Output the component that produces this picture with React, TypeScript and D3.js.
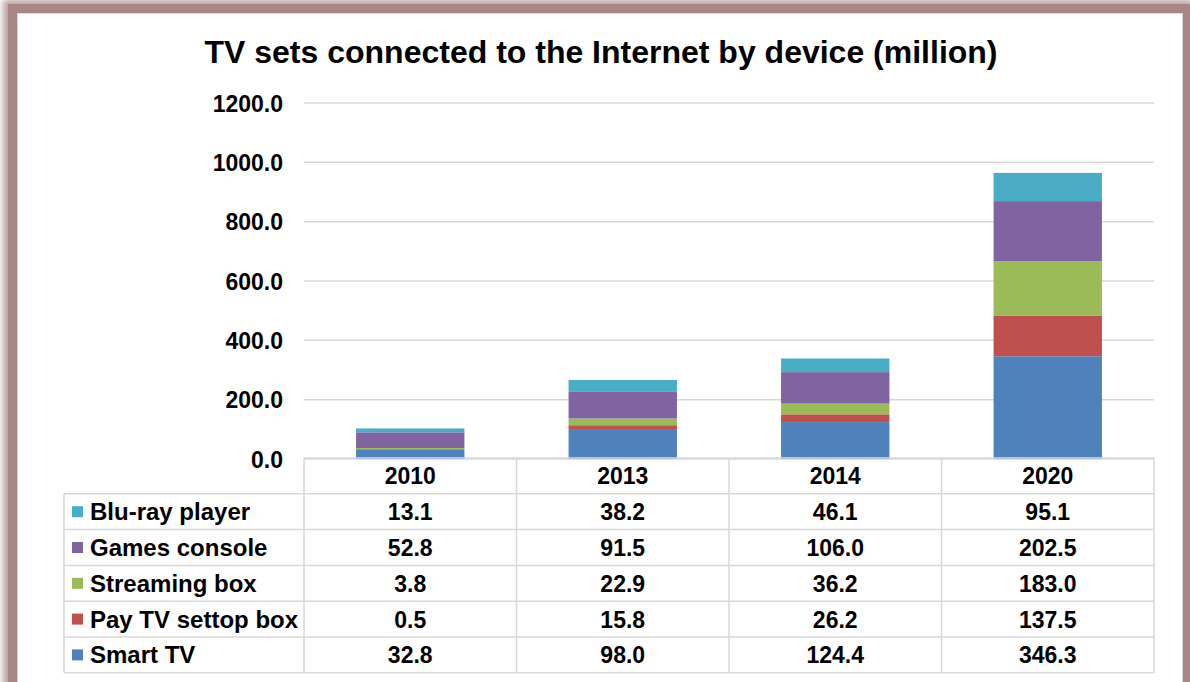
import * as d3 from "d3";
import { useRef, useEffect } from "react";

const years = ["2010", "2013", "2014", "2020"];
const seriesNames = ["Smart TV", "Pay TV settop box", "Streaming box", "Games console", "Blu-ray player"];
const seriesColors = ["#4f81bd", "#c0504d", "#9bbb59", "#8064a2", "#4bacc6"];
const smartTV = [32.8, 98.0, 124.4, 346.3];
const payTV = [0.5, 15.8, 26.2, 137.5];
const streamingBox = [3.8, 22.9, 36.2, 183.0];
const gamesConsole = [52.8, 91.5, 106.0, 202.5];
const bluRay = [13.1, 38.2, 46.1, 95.1];
const yTicks = [0, 200, 400, 600, 800, 1000, 1200];

const W = 1190;
const H = 682;

function App() {
  const ref = useRef<SVGSVGElement>(null);

  useEffect(() => {
    draw();
  }, []);

  const draw = () => {
    const svg = d3.select(ref.current);
    svg.selectAll("*").remove();
    const font = "'Liberation Sans', Arial, sans-serif";

    const values = [smartTV, payTV, streamingBox, gamesConsole, bluRay];
    const rows = years.map((y, i) => {
      const r: any = { year: y };
      seriesNames.forEach((s, k) => (r[s] = values[k][i]));
      return r;
    });

    // frame with soft shadow
    const defs = svg.append("defs");
    defs
      .append("filter")
      .attr("id", "blur")
      .attr("x", "-5%")
      .attr("y", "-5%")
      .attr("width", "110%")
      .attr("height", "110%")
      .append("feGaussianBlur")
      .attr("stdDeviation", 3);

    svg
      .append("rect")
      .attr("x", 9)
      .attr("y", 6)
      .attr("width", 1178)
      .attr("height", 720)
      .attr("fill", "none")
      .attr("stroke", "#8a6262")
      .attr("stroke-width", 12)
      .attr("opacity", 0.6)
      .attr("filter", "url(#blur)");
    svg
      .append("rect")
      .attr("x", 12.5)
      .attr("y", 8.5)
      .attr("width", 1174)
      .attr("height", 720)
      .attr("fill", "white")
      .attr("stroke", "#a98585")
      .attr("stroke-width", 9);
    svg
      .append("rect")
      .attr("x", 17.5)
      .attr("y", 13.5)
      .attr("width", 1165)
      .attr("height", 720)
      .attr("fill", "none")
      .attr("stroke", "#dcdcdc")
      .attr("stroke-width", 1);

    // title
    svg
      .append("text")
      .attr("x", 601)
      .attr("y", 63)
      .attr("text-anchor", "middle")
      .attr("font-family", font)
      .attr("font-weight", "bold")
      .attr("font-size", 32)
      .text("TV sets connected to the Internet by device (million)");

    const x = d3.scaleBand().domain(years).range([304, 1154]).padding(0);
    const y = d3.scaleLinear().domain([0, 1200]).range([459, 103]);
    const barW = x.bandwidth() * 0.51;

    // gridlines + y labels
    const g = svg.append("g");
    g.selectAll("line.grid")
      .data(yTicks)
      .join("line")
      .attr("x1", 304)
      .attr("x2", 1154)
      .attr("y1", (d) => y(d))
      .attr("y2", (d) => y(d))
      .attr("stroke", "#d9d9d9")
      .attr("stroke-width", 1.5);
    g.selectAll("text.tick")
      .data(yTicks)
      .join("text")
      .attr("x", 283)
      .attr("y", (d) => y(d) + 8.5)
      .attr("text-anchor", "end")
      .attr("font-family", font)
      .attr("font-weight", "bold")
      .attr("font-size", 23)
      .text((d) => d3.format(".1f")(d));

    // stacked bars
    const stacked = d3.stack().keys(seriesNames)(rows);
    svg
      .append("g")
      .selectAll("g")
      .data(stacked)
      .join("g")
      .attr("fill", (d, i) => seriesColors[i])
      .selectAll("rect")
      .data((d) => d)
      .join("rect")
      .attr("x", (d: any) => x(d.data.year)! + (x.bandwidth() - barW) / 2)
      .attr("width", barW)
      .attr("y", (d) => y(d[1]))
      .attr("height", (d) => y(d[0]) - y(d[1]));

    // data table
    const tableTop = 458;
    const rowH = 35.8;
    const tableLeft = 64;
    const tableRight = 1154;
    const tableBottom = tableTop + rowH * 6;
    const tbl = svg.append("g").attr("font-family", font).attr("font-weight", "bold").attr("font-size", 23);
    const lineColor = "#d9d9d9";

    // horizontal lines
    tbl
      .append("line")
      .attr("x1", 304)
      .attr("x2", tableRight)
      .attr("y1", tableTop)
      .attr("y2", tableTop)
      .attr("stroke", lineColor)
      .attr("stroke-width", 1.5);
    d3.range(1, 7).forEach((k) => {
      tbl
        .append("line")
        .attr("x1", tableLeft)
        .attr("x2", tableRight)
        .attr("y1", tableTop + rowH * k)
        .attr("y2", tableTop + rowH * k)
        .attr("stroke", lineColor)
        .attr("stroke-width", 1.5);
    });
    // vertical lines
    tbl
      .append("line")
      .attr("x1", tableLeft)
      .attr("x2", tableLeft)
      .attr("y1", tableTop + rowH)
      .attr("y2", tableBottom)
      .attr("stroke", lineColor)
      .attr("stroke-width", 1.5);
    [...years.map((yr) => x(yr)!), tableRight].forEach((xx) => {
      tbl
        .append("line")
        .attr("x1", xx)
        .attr("x2", xx)
        .attr("y1", tableTop)
        .attr("y2", tableBottom)
        .attr("stroke", lineColor)
        .attr("stroke-width", 1.5);
    });

    // header
    tbl
      .selectAll("text.year")
      .data(years)
      .join("text")
      .attr("x", (d) => x(d)! + x.bandwidth() / 2)
      .attr("y", tableTop + rowH / 2 + 8.5)
      .attr("text-anchor", "middle")
      .text((d) => d);

    // rows, top to bottom: reverse of stack order
    const order = d3.range(seriesNames.length).reverse();
    order.forEach((k, r) => {
      const cy = tableTop + rowH * (r + 1) + rowH / 2;
      tbl
        .append("rect")
        .attr("x", 72)
        .attr("y", cy - 5.5)
        .attr("width", 11)
        .attr("height", 11)
        .attr("fill", seriesColors[k]);
      tbl
        .append("text")
        .attr("x", 90)
        .attr("y", cy + 8.5)
        .attr("font-size", 24)
        .text(seriesNames[k]);
      years.forEach((yr, i) => {
        tbl
          .append("text")
          .attr("x", x(yr)! + x.bandwidth() / 2)
          .attr("y", cy + 8.5)
          .attr("text-anchor", "middle")
          .text(d3.format(".1f")(values[k][i]));
      });
    });
  };

  return (
    <div style={{ position: "absolute", left: 0, top: 0 }}>
      <svg ref={ref} width={W} height={H} style={{ display: "block" }}></svg>
    </div>
  );
}

export default App;
